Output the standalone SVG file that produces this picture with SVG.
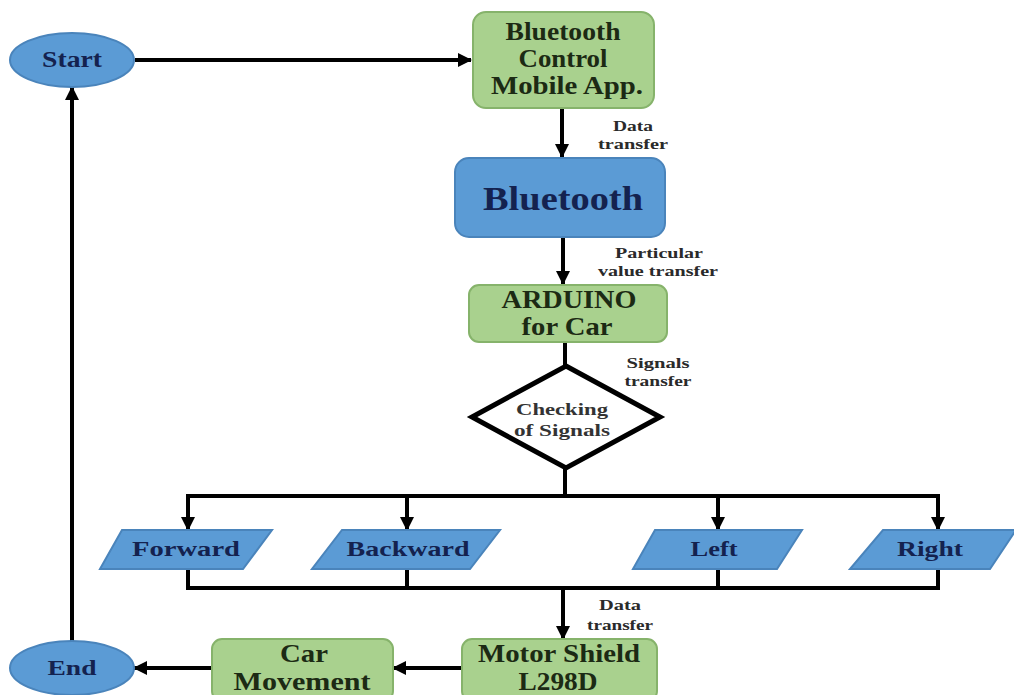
<svg xmlns="http://www.w3.org/2000/svg" width="1014" height="695" viewBox="0 0 1014 695">
<defs>
<marker id="ah" markerUnits="userSpaceOnUse" markerWidth="14" markerHeight="14" refX="13" refY="7" orient="auto">
<path d="M0,0 L14,7 L0,14 z" fill="#000"/>
</marker>
<style>
.g{fill:#a9d18e;stroke:#86b36b;stroke-width:2}
.b{fill:#5b9bd5;stroke:#4a84bb;stroke-width:2}
.w{fill:#fff;stroke:#000;stroke-width:5;stroke-linejoin:miter}
.t{font-family:"Liberation Serif","Times New Roman",serif;font-weight:bold;text-anchor:middle}
.tg{fill:#1c2a14;font-size:25px}
.tb{fill:#14224f}
.s{fill:#2a2a2a;font-size:14px}
.c{stroke:#000;stroke-width:4;fill:none}
.a{marker-end:url(#ah)}
</style>
</defs>
<rect width="1014" height="695" fill="#fff"/>

<g id="connectors">
<path class="c a" d="M135,60 H471"/>
<path class="c a" d="M562,108 V157"/>
<path class="c a" d="M563,237 V284"/>
<path class="c" d="M565,342 V366"/>
<path class="c" d="M565,468 V496"/>
<path class="c" d="M186,496 H940"/>
<path class="c a" d="M188,494 V530"/>
<path class="c a" d="M407,494 V530"/>
<path class="c a" d="M718,494 V530"/>
<path class="c a" d="M938,494 V530"/>
<path class="c" d="M188,566 V588"/>
<path class="c" d="M407,566 V588"/>
<path class="c" d="M718,566 V588"/>
<path class="c" d="M938,566 V588"/>
<path class="c" d="M186,588 H940"/>
<path class="c a" d="M563,586 V639"/>
<path class="c a" d="M462,668 H393"/>
<path class="c a" d="M212,668 H134"/>
<path class="c a" d="M72,641 V87"/>
<text class="t s" x="633" y="131" textLength="40" lengthAdjust="spacingAndGlyphs">Data</text>
<text class="t s" x="633" y="149" textLength="70" lengthAdjust="spacingAndGlyphs">transfer</text>
<text class="t s" x="659" y="258" textLength="88" lengthAdjust="spacingAndGlyphs">Particular</text>
<text class="t s" x="658" y="276" textLength="120" lengthAdjust="spacingAndGlyphs">value transfer</text>
<text class="t s" x="658" y="368" textLength="63" lengthAdjust="spacingAndGlyphs">Signals</text>
<text class="t s" x="658" y="386" textLength="67" lengthAdjust="spacingAndGlyphs">transfer</text>
<text class="t s" x="620" y="610" textLength="42" lengthAdjust="spacingAndGlyphs">Data</text>
<text class="t s" x="620" y="630" textLength="66" lengthAdjust="spacingAndGlyphs">transfer</text>
</g>

<g id="start">
<ellipse class="b" cx="72" cy="60" rx="62" ry="27"/>
<text class="t tb" x="72" y="67" font-size="23" textLength="60" lengthAdjust="spacingAndGlyphs">Start</text>
</g>

<g id="app">
<rect class="g" x="473" y="12" width="181" height="96" rx="13"/>
<text class="t tg" x="563" y="40" textLength="115" lengthAdjust="spacingAndGlyphs">Bluetooth</text>
<text class="t tg" x="563" y="67" textLength="89" lengthAdjust="spacingAndGlyphs">Control</text>
<text class="t tg" x="567" y="94" textLength="152" lengthAdjust="spacingAndGlyphs">Mobile App.</text>
</g>

<g id="bluetooth">
<rect class="b" x="455" y="158" width="210" height="79" rx="14"/>
<text class="t tb" x="563" y="210" font-size="33" textLength="160" lengthAdjust="spacingAndGlyphs">Bluetooth</text>
</g>

<g id="arduino">
<rect class="g" x="469" y="285" width="198" height="57" rx="10"/>
<text class="t tg" x="569" y="308" textLength="135" lengthAdjust="spacingAndGlyphs">ARDUINO</text>
<text class="t tg" x="567" y="335" textLength="91" lengthAdjust="spacingAndGlyphs">for Car</text>
</g>

<g id="check">
<polygon class="w" points="566,366 660,417 566,468 472,417"/>
<text class="t" x="562" y="415" font-size="17" fill="#333" textLength="92" lengthAdjust="spacingAndGlyphs">Checking</text>
<text class="t" x="562" y="436" font-size="17" fill="#333" textLength="96" lengthAdjust="spacingAndGlyphs">of Signals</text>
</g>

<g id="forward">
<polygon class="b" points="122,530 272,530 243,569 100,569"/>
<text class="t tb" x="186" y="556" font-size="22" textLength="108" lengthAdjust="spacingAndGlyphs">Forward</text>
</g>
<g id="backward">
<polygon class="b" points="342,530 500,530 470,569 312,569"/>
<text class="t tb" x="408" y="556" font-size="22" textLength="123" lengthAdjust="spacingAndGlyphs">Backward</text>
</g>
<g id="left">
<polygon class="b" points="655,530 802,530 777,569 633,569"/>
<text class="t tb" x="714" y="556" font-size="22" textLength="47" lengthAdjust="spacingAndGlyphs">Left</text>
</g>
<g id="right">
<polygon class="b" points="883,530 1016,530 990,569 850,569"/>
<text class="t tb" x="930" y="556" font-size="22" textLength="66" lengthAdjust="spacingAndGlyphs">Right</text>
</g>

<g id="motor">
<rect class="g" x="462" y="639" width="195" height="62" rx="10"/>
<text class="t tg" x="559" y="662" textLength="162" lengthAdjust="spacingAndGlyphs">Motor Shield</text>
<text class="t tg" x="558" y="690" textLength="79" lengthAdjust="spacingAndGlyphs">L298D</text>
</g>

<g id="car">
<rect class="g" x="212" y="639" width="181" height="62" rx="10"/>
<text class="t tg" x="304" y="662" textLength="48" lengthAdjust="spacingAndGlyphs">Car</text>
<text class="t tg" x="302" y="690" textLength="137" lengthAdjust="spacingAndGlyphs">Movement</text>
</g>

<g id="end">
<ellipse class="b" cx="72" cy="668" rx="62" ry="27"/>
<text class="t tb" x="72" y="675" font-size="22" textLength="49" lengthAdjust="spacingAndGlyphs">End</text>
</g>
</svg>
